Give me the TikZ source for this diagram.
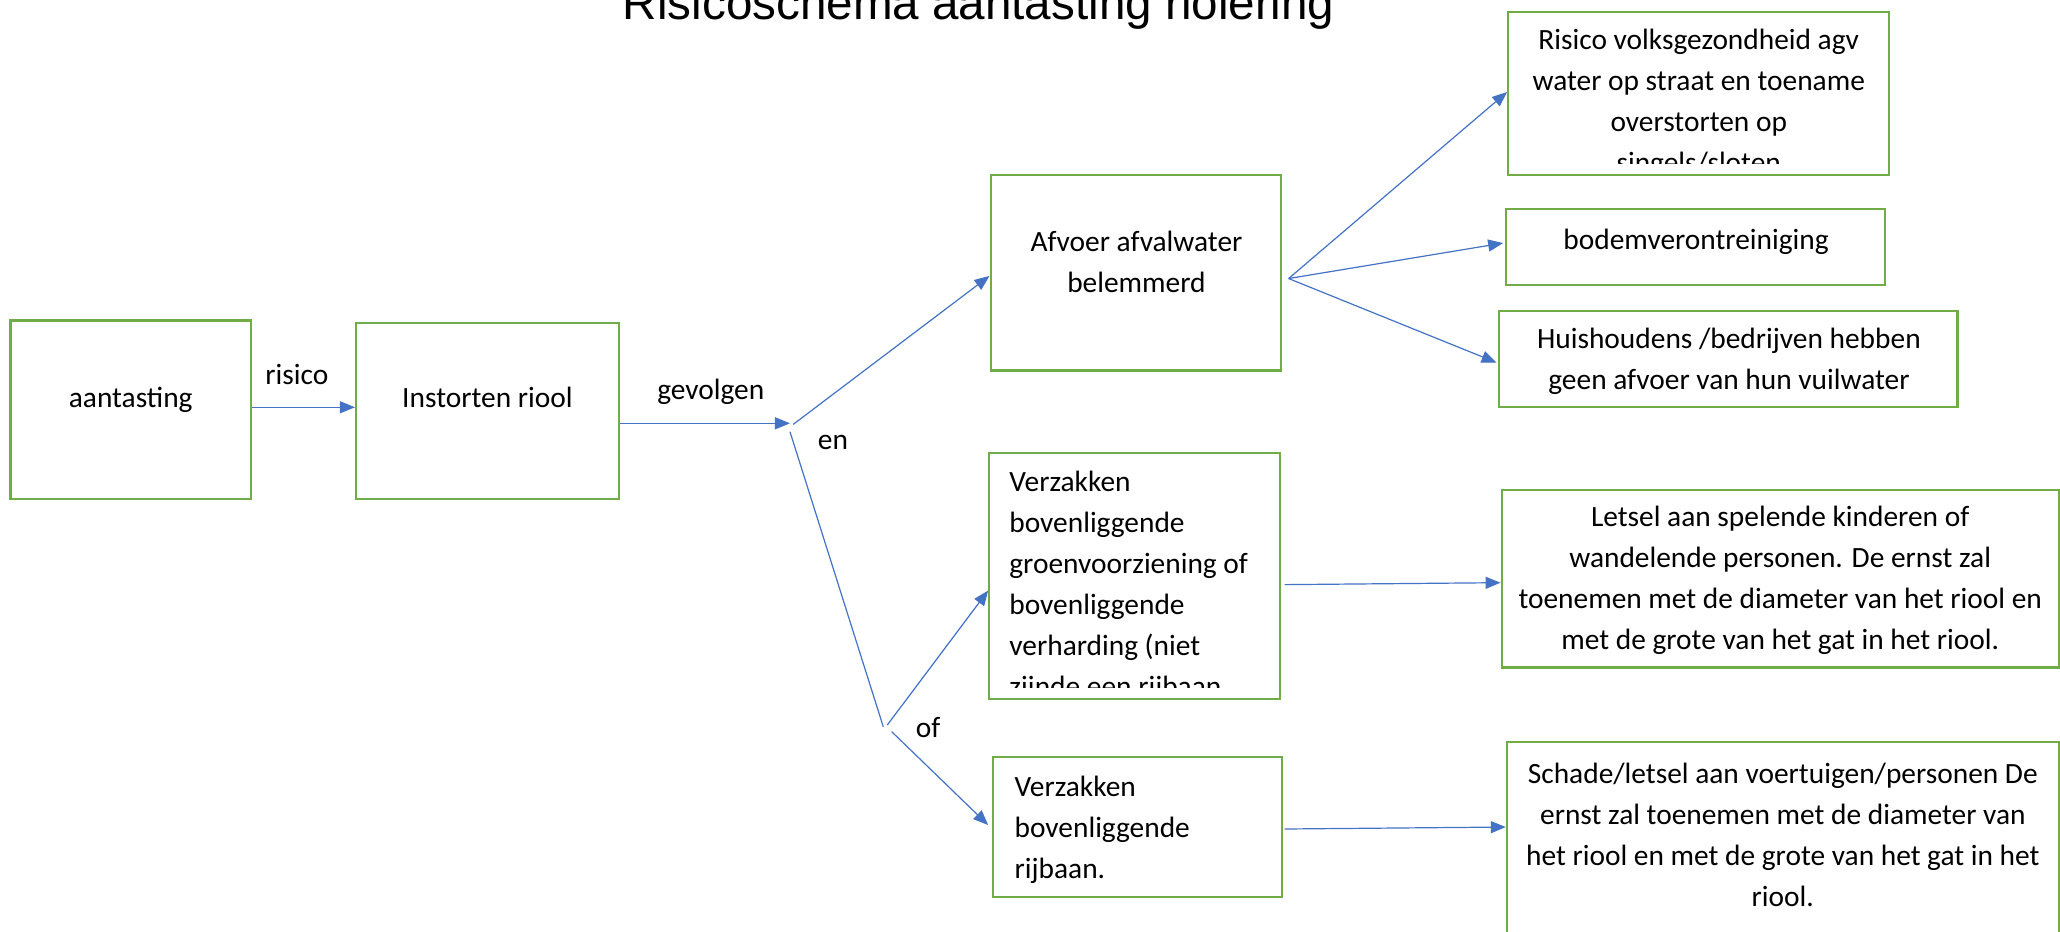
\documentclass[tikz,border=0pt]{standalone}
\usepackage{fontspec}
\setmainfont{Carlito}
\newfontfamily\titlefont{Liberation Sans}
\usetikzlibrary{arrows.meta,positioning,fit,calc}
\definecolor{boxgreen}{HTML}{70AD47}
\definecolor{arrowblue}{HTML}{4472C4}
\begin{document}
\begin{tikzpicture}[x=0.6569pt,y=-0.6569pt,
  box/.style={draw=boxgreen, line width=1.1pt, inner sep=0pt},
  conn/.style={draw=arrowblue, line width=0.6pt},
  arr/.style={conn, -{Triangle[length=7.5pt,width=6pt]}},
  txt/.style={font=\fontsize{14.7pt}{20.5pt}\selectfont, inner sep=0pt},
  ttl/.style={font=\titlefont\fontsize{23.8pt}{28pt}\selectfont, inner sep=0pt},
]
\clip (0,0) rectangle (1568,709);
\fill[white] (0,0) rectangle (1568,709);

\node[ttl, anchor=base] (title) at (745,15) {Risicoschema aantasting riolering};

% boxes
\node[box, fit={(8,244) (191,380)}] (A) {};
\node[box, fit={(271,246) (471,380)}] (B) {};
\node[box, fit={(754,133) (975,282)}] (C) {};
\node[box, fit={(1148,9) (1438,133)}] (D) {};
\node[box, fit={(1146,159) (1435,217)}] (E) {};
\node[box, fit={(1141,237) (1490,310)}] (F) {};
\node[box, fit={(753,345) (974,532)}] (G) {};
\node[box, fit={(1143,373) (1567,508)}] (H) {};
\node[box, fit={(756,576) (976,683)}] (I) {};
\node[box, fit={(1147,565) (1567,730)}] (J) {};

% texts
\node[txt, anchor=base] (tA) at (99.5,310) {aantasting};
\node[txt, anchor=base] (tB) at (371,310) {Instorten riool};
\node[txt, anchor=north, align=center] (tC) at (865,169.15) {\strut Afvoer afvalwater\\belemmerd};
\begin{scope}
  \clip (1150,10) rectangle (1437,124.3);
  \node[txt, anchor=north, align=center] (tD) at (1293,15.15) {\strut Risico volksgezondheid agv\\water op straat en toename\\overstorten op\\singels/sloten};
\end{scope}
\node[txt, anchor=base] (tE) at (1291,190) {bodemverontreiniging};
\node[txt, anchor=north, align=center] (tF) at (1316,243.15) {\strut Huishoudens /bedrijven hebben\\geen afvoer van hun vuilwater};
\begin{scope}
  \clip (755,346) rectangle (973,523);
  \node[txt, anchor=north west, align=left] (tG) at (768,352.15) {\strut Verzakken\\bovenliggende\\groenvoorziening of\\bovenliggende\\verharding (niet\\zijnde een rijbaan};
\end{scope}
\node[txt, anchor=north, align=center] (tH) at (1355,378.65) {\strut Letsel aan spelende kinderen of\\wandelende personen. De ernst zal\\toenemen met de diameter van het riool en\\met de grote van het gat in het riool.};
\node[txt, anchor=north west, align=left] (tI) at (772,584.15) {\strut Verzakken\\bovenliggende\\rijbaan.};
\node[txt, anchor=north, align=center] (tJ) at (1357,574.15) {\strut Schade/letsel aan voertuigen/personen De\\ernst zal toenemen met de diameter van\\het riool en met de grote van het gat in het\\riool.};

% labels
\node[txt, anchor=base] (lrisico) at (226,293) {risico};
\node[txt, anchor=base] (lgevolgen) at (541,304) {gevolgen};
\node[txt, anchor=base] (len) at (634,342.5) {en};
\node[txt, anchor=base] (lof) at (706.5,561) {of};

% junction coordinates
\coordinate (j1) at (601.3,322.2);
\coordinate (j1u) at (603.8,323);
\coordinate (j1d) at (601.3,328.6);
\coordinate (j2) at (672.3,553.1);
\coordinate (j2u) at (675.4,551.8);
\coordinate (j2d) at (678.7,556.9);
\coordinate (f) at ($(C.east)+(5,4.5)$);

% connectors
\draw[arr] (A.east |- 0,310) -- (B.west |- 0,310);
\draw[arr] (B.east |- j1) -- (j1);
\draw[arr] (j1u) -- ($(C.west)+(0,2.5)$);
\draw[conn] (j1d) -- (j2);
\draw[arr] (j2u) -- ($(G.west)+(0,11)$);
\draw[arr] (j2d) -- ($(I.west)+(-3,-1.5)$);
\draw[arr] (f) -- ($(D.west)+(0,-1)$);
\draw[arr] (f) -- ($(E.west)+(-1,-3)$);
\draw[arr] (f) -- ($(F.west)+(-1,2.5)$);
\draw[arr] ($(G.east)+(3,6.5)$) -- ($(H.west)+(0,3)$);
\draw[arr] ($(I.east)+(1,1.5)$) -- (J.west |- I.east);
\end{tikzpicture}
\end{document}
